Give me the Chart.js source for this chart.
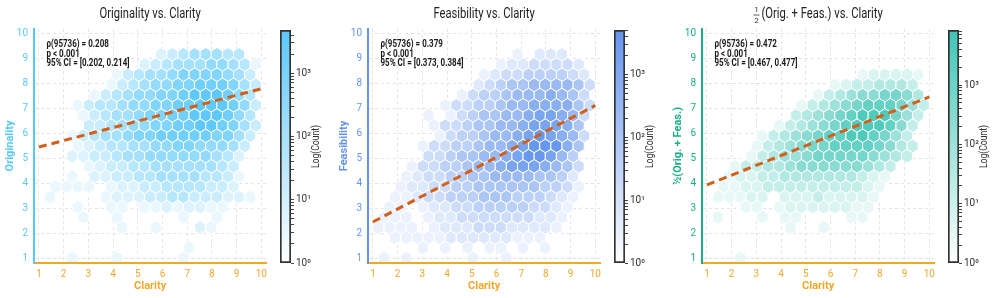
<!DOCTYPE html>
<html>
<head>
<meta charset="utf-8">
<script src="https://cdn.jsdelivr.net/npm/chart.js@4.4.1/dist/chart.umd.min.js"></script>
<style>
body{margin:0;background:#fff;width:996px;height:298px;overflow:hidden;position:relative}
.box{position:absolute;top:0}
</style>
</head>
<body>
<div class="box" style="left:0px"><canvas id="m1" width="272" height="298"></canvas></div>
<div class="box" style="left:279px"><canvas id="c1" width="45" height="298"></canvas></div>
<div class="box" style="left:334px"><canvas id="m2" width="272" height="298"></canvas></div>
<div class="box" style="left:613px"><canvas id="c2" width="45" height="298"></canvas></div>
<div class="box" style="left:668px"><canvas id="m3" width="272" height="298"></canvas></div>
<div class="box" style="left:947px"><canvas id="c3" width="45" height="298"></canvas></div>
<script>
var xTicks=[1,2,3,4,5,6,7,8,9,10];
var yTicks=[1,2,3,4,5,6,7,8,9,10];
var cbTicks=[1,10,100,1000];
var cbLabels=['10\u2070','10\u00b9','10\u00b2','10\u00b3'];

// hexbin: 20 hexes across clarity 1..10, rows step up half a hex height
var hexCols=20, hexMin=1, hexMax=10;
// one string per hex row, top row first; digit d = count of about 10^(0.4*d), '.' = empty
var origRows=[
".....................",
"....................",
"...........23455544..",
".........23455566541",
".......1345567777653.",
"......13456677888753",
".....134566778999864.",
"...13445667788999863",
"....1345567788999864.",
"....3345667788998753",
"...13455677888887753.",
"...1234455667766653.",
"...2233455666666542..",
"....12334455555543..",
"...1.22334455554431..",
".1111.122334444332..",
".1....12223344333221.",
"...1..11.11212211...",
"....1..1.....1..1....",
".......1..1...21....",
".....................",
".............1......",
"...1...1.....1......."
];
var feasRows=[
".....................",
"....................",
".............1.222...",
"...........12233332.",
"..........1233444432.",
".........23455666653",
"........134456667653.",
"......13344566777753",
".....1.1345566788763.",
".....13345566788875.",
"......13445667898763.",
"....133445667899975.",
".....33455667899864..",
"...1334456678887653.",
"...1233445566665542..",
"..12233445555554431.",
"..11233444555444321..",
".11.12233444443321..",
".111.1223333333221...",
"1111.122233322221...",
"..11111222222111.....",
"....1.1.1.11.1.1....",
".1.1.....1..1........"
];
var avgRows=[
".....................",
"....................",
".....................",
"....................",
"..............122221.",
"...........12334443.",
"..........1345667764.",
"........134567888753",
"........345678999753.",
"......1345678999863.",
".....13456788998753..",
"....134567788887643.",
"....134556777776543..",
"..133445666666543...",
"..122334444444321....",
".112233333333321....",
".11122.222322221.....",
"...11.122222211.....",
".1...1.11....11......",
".......1..1.........",
".....................",
"....................",
"...1................."
];
var countMax=[4800,5100,8500];
// fitted line, y at clarity 1 and 10
var fitX=[1,10];
var origFit=[5.46,7.80];
var feasFit=[2.45,7.13];
var avgFit=[3.94,7.47];
var origStats=['\u03c1(95736) = 0.208','p < 0.001','95% CI = [0.202, 0.214]'];
var feasStats=['\u03c1(95736) = 0.379','p < 0.001','95% CI = [0.373, 0.384]'];
var avgStats=['\u03c1(95736) = 0.472','p < 0.001','95% CI = [0.467, 0.477]'];

var orange='#F2A72B', lineCol='#D2601A', ink='#333';
var sx=(hexMax-hexMin)/hexCols, sy=(hexMax-hexMin)/Math.floor(hexCols/Math.sqrt(3));

function hexPoints(rows){
  var pts=[];
  rows.forEach(function(row,k){
    var r=rows.length-1-k;
    for(var i=0;i<row.length;i++){
      if(row[i]=='.') continue;
      pts.push({x:hexMin+(i+(r%2?0.5:0))*sx,y:hexMin+r*sy/2,c:Math.round(Math.pow(10,0.4*(+row[i])))});
    }
  });
  return pts;
}
function mix(hex,t){
  t=Math.max(0,Math.min(1,t));
  var n=parseInt(hex.slice(1),16),r=n>>16&255,g=n>>8&255,b=n&255;
  return 'rgb('+Math.round(255+(r-255)*t)+','+Math.round(255+(g-255)*t)+','+Math.round(255+(b-255)*t)+')';
}
function narrow(ctx,txt,x,y,font,color,align,sc,rot){
  ctx.save();ctx.font=font;ctx.fillStyle=color;ctx.textBaseline='middle';ctx.textAlign=align;
  ctx.translate(x,y);if(rot)ctx.rotate(rot);ctx.scale(sc,1);ctx.fillText(txt,0,0);ctx.restore();
}

var hexPlugin={id:'hexbin',beforeDatasetsDraw:function(chart){
  var o=chart.options.plugins.hexbin;if(!o)return;
  var ds=chart.data.datasets[0],meta=chart.getDatasetMeta(0);
  var xs=chart.scales.x,ys=chart.scales.y,a=chart.chartArea,ctx=chart.ctx;
  var hw=Math.abs(xs.getPixelForValue(hexMin+sx/2)-xs.getPixelForValue(hexMin));
  var hh=Math.abs(ys.getPixelForValue(hexMin+sy/3)-ys.getPixelForValue(hexMin));
  ctx.save();
  ctx.beginPath();ctx.rect(a.left,a.top,a.width,a.height);ctx.clip();
  meta.data.forEach(function(p,i){
    ctx.beginPath();
    ctx.moveTo(p.x,p.y-hh);ctx.lineTo(p.x+hw,p.y-hh/2);ctx.lineTo(p.x+hw,p.y+hh/2);
    ctx.lineTo(p.x,p.y+hh);ctx.lineTo(p.x-hw,p.y+hh/2);ctx.lineTo(p.x-hw,p.y-hh/2);ctx.closePath();
    ctx.fillStyle=mix(o.color,Math.log10(ds.data[i].c)/Math.log10(o.max));
    ctx.fill();
    ctx.strokeStyle='#fff';ctx.lineWidth=1;ctx.stroke();
  });
  ctx.restore();
}};

var decoPlugin={id:'deco',afterDraw:function(chart){
  var o=chart.options.plugins.deco,a=chart.chartArea,ctx=chart.ctx;
  var cx=(a.left+a.right)/2;
  if(o.frac){
    ctx.save();ctx.font='14px Roboto';
    var w=ctx.measureText(o.title).width*0.8;ctx.restore();
    var x0=cx-(w+8)/2;
    narrow(ctx,'1',x0+3,9.5,'8px Roboto',ink,'center',1);
    narrow(ctx,'2',x0+3,20.5,'8px Roboto',ink,'center',1);
    ctx.save();ctx.strokeStyle=ink;ctx.lineWidth=0.8;ctx.beginPath();ctx.moveTo(x0,15);ctx.lineTo(x0+6,15);ctx.stroke();ctx.restore();
    narrow(ctx,o.title,x0+8,14.5,'14px Roboto','#222','left',0.8);
  }else{
    narrow(ctx,o.title,cx,14.5,'14px Roboto','#222','center',0.8);
  }
  o.stats.forEach(function(s,i){
    narrow(ctx,s,a.left+12.5,a.top+15.7+i*9.6,'bold 10px Roboto','#1a1a1a','left',0.8);
  });
}};

var cbPlugin={id:'cbLabel',afterDraw:function(chart){
  var a=chart.chartArea;
  narrow(chart.ctx,'Log(Count)',37.7,(a.top+a.bottom)/2,'10px Roboto',ink,'center',0.86,-Math.PI/2);
}};

function mainChart(id,rows,fit,stats,title,yTitle,yCol,cmap,max,frac){
  var tickFont={family:'Roboto',size:10};
  var titleFont={family:'Roboto',size:11,weight:'bold'};
  new Chart(document.getElementById(id),{
    type:'scatter',
    data:{datasets:[
      {data:hexPoints(rows),pointRadius:0,pointHoverRadius:0},
      {type:'line',data:fitX.map(function(x,i){return {x:x,y:fit[i]};}),borderColor:lineCol,borderWidth:3,borderDash:[8,5],pointRadius:0,fill:false}
    ]},
    options:{
      responsive:false,animation:false,events:[],
      layout:{padding:{top:29,right:2,left:0,bottom:0}},
      plugins:{legend:{display:false},tooltip:{enabled:false},
        hexbin:{color:cmap,max:max},
        deco:{title:title,stats:stats,frac:frac}},
      scales:{
        x:{type:'linear',min:0.8,max:10.2,
          afterFit:function(s){s.height=35;},
          afterBuildTicks:function(s){s.ticks=xTicks.map(function(v){return {value:v};});},
          grid:{color:'#e4e4e4',drawTicks:false},
          border:{display:true,color:orange,width:2,dash:[3,3],z:1},
          ticks:{color:orange,font:tickFont,padding:5},
          title:{display:true,text:'Clarity',color:orange,font:titleFont,padding:{top:0,bottom:5.4}}},
        y:{type:'linear',min:0.8,max:10.2,
          afterFit:function(s){s.width=34;},
          afterBuildTicks:function(s){s.ticks=yTicks.map(function(v){return {value:v};});},
          grid:{color:'#e4e4e4',drawTicks:false},
          border:{display:true,color:yCol,width:2,dash:[3,3],z:1},
          ticks:{color:yCol,font:tickFont,padding:6},
          title:{display:true,text:yTitle,color:yCol,font:titleFont,padding:{top:3.4,bottom:0}}}
      }
    },
    plugins:[hexPlugin,decoPlugin]
  });
}

function colorBar(id,max,cmap){
  var minor=[];
  cbTicks.forEach(function(d){for(var m=1;m<10;m++){if(d*m<=max)minor.push(d*m);}});
  new Chart(document.getElementById(id),{
    type:'bar',
    data:{labels:['count'],datasets:[{data:[[1,max]],
      backgroundColor:function(c){
        var a=c.chart.chartArea;if(!a)return cmap;
        var g=c.chart.ctx.createLinearGradient(0,a.bottom,0,a.top);
        g.addColorStop(0,'#ffffff');g.addColorStop(1,cmap);return g;},
      borderColor:'#333',borderWidth:2,borderSkipped:false,barPercentage:1,categoryPercentage:1}]},
    options:{
      responsive:false,animation:false,events:[],
      layout:{padding:{top:30,bottom:35,left:1,right:0}},
      plugins:{legend:{display:false},tooltip:{enabled:false}},
      scales:{
        x:{display:false},
        y:{type:'logarithmic',position:'right',min:1,max:max,
          afterFit:function(s){s.width=33;},
          afterBuildTicks:function(s){s.ticks=minor.map(function(v){return {value:v};});},
          grid:{drawOnChartArea:false,tickLength:3,color:'#444'},
          border:{display:false},
          ticks:{autoSkip:false,padding:2,color:ink,font:{family:'Roboto',size:10},
            callback:function(v){var k=cbTicks.indexOf(v);return k<0?'':cbLabels[k];}}}
      }
    },
    plugins:[cbPlugin]
  });
}

mainChart('m1',origRows,origFit,origStats,'Originality vs. Clarity','Originality','#5AC8FA','#5AC8FA',countMax[0],false);
mainChart('m2',feasRows,feasFit,feasStats,'Feasibility vs. Clarity','Feasibility','#6495ED','#6495ED',countMax[1],false);
mainChart('m3',avgRows,avgFit,avgStats,'(Orig. + Feas.) vs. Clarity','\u00bd(Orig. + Feas.)','#1AAE88','#3FC6B6',countMax[2],true);
colorBar('c1',countMax[0],'#5AC8FA');
colorBar('c2',countMax[1],'#6495ED');
colorBar('c3',countMax[2],'#3FC6B6');
</script>
</body>
</html>
